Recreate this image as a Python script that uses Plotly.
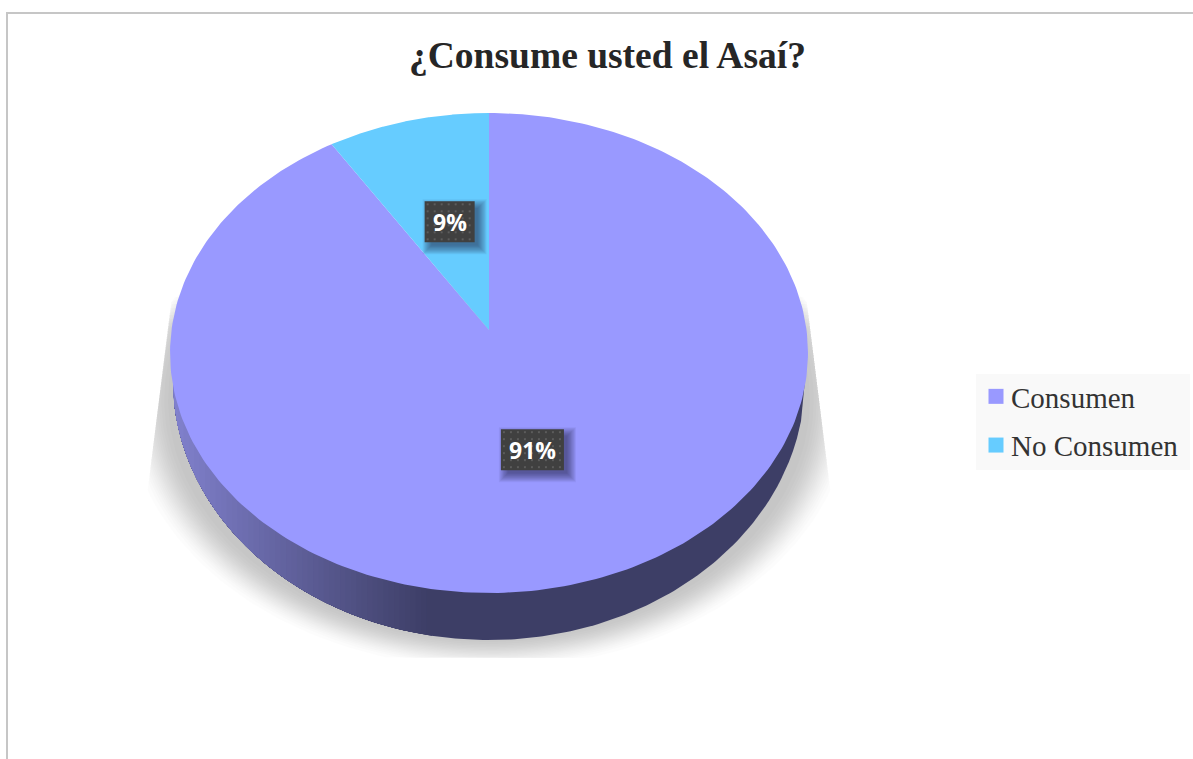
import numpy as np
import plotly.graph_objects as go

# Survey result
title_text = "¿Consume usted el Asaí?"
categories = ["Consumen", "No Consumen"]
values = [91, 9]
labels = ["91%", "9%"]
slice_colors = ["#9999ff", "#66ccff"]

W, H = 1193, 759

# Perspective disc: apex of the slices, near/far reach and horizontal radius
CX, CY = 489.0, 330.0
TILT = 0.0958
RY = 237.8
RX = 317.5


def project(angle_deg, frac=1.0):
    """Map a clockwise-from-top angle and radius fraction onto the tilted disc."""
    a = np.radians(angle_deg)
    u, v = frac * np.sin(a), frac * np.cos(a)
    w = 1 + TILT * v
    return CX + RX * u / w, CY - RY * v / w


def poly(x, y, color, name=None):
    return go.Scatter(
        x=list(x), y=list(y), mode="lines", fill="toself", fillcolor=color,
        line=dict(width=0), showlegend=False, hoverinfo="skip" if name is None else "text",
        text=name,
    )


fig = go.Figure()

# Soft floor shadow, stacked translucent ellipses clipped to a trapezoid
LAYERS = 19
alpha = 3 / 255
t = np.linspace(0, 2 * np.pi, 241)
for q in (np.arange(LAYERS) + 0.5) / LAYERS:
    s = 0.5 - np.sin(np.arcsin(1 - 2 * q) / 3)
    rx, ry = 316 + 52 * s, 236 + 36 * s
    px = CX + rx * np.cos(t)
    py = 400 + ry * np.sin(t)
    py = np.clip(py, 258 + 70 * q, 658)
    half = 319 + 0.125 * (py - 310)
    px = np.clip(px, CX - half, CX + half)
    fig.add_trace(poly(px, py, f"rgba(0,0,0,{alpha:.4f})"))

# Side wall: nested slabs, shortened step by step for a left-to-right gradient
RIM_RX, RIM_RY, RIM_CY = 316.0, 260.0, 380.0
dark = np.array([61, 62, 102])
light = np.array([128, 128, 204])


def wall(x_right, color):
    xs = np.linspace(CX - RIM_RX, x_right, 160)
    inside = np.clip(1 - ((xs - CX) / RIM_RX) ** 2, 0, None)
    ys = RIM_CY + RIM_RY * np.sqrt(inside)
    return poly(
        np.r_[xs, x_right, CX - RIM_RX],
        np.r_[ys, RIM_CY, RIM_CY],
        color,
    )


fig.add_trace(wall(CX + RIM_RX, "rgb(61,62,102)"))
GRAD_STEPS = 48
for i in range(GRAD_STEPS):
    f = i / (GRAD_STEPS - 1)
    x_edge = 432 + (178 - 432) * f
    c = dark + (light - dark) * f ** 1.05
    fig.add_trace(wall(x_edge, f"rgb({c[0]:.0f},{c[1]:.0f},{c[2]:.0f})"))

# Slices, clockwise from twelve o'clock, the large one first
total = sum(values)
small_sweep = 360 * values[1] / total
spans = [(0.0, 360 - small_sweep), (360 - small_sweep, 360.0)]
for name, val, color, (a0, a1) in zip(categories, values, slice_colors, spans):
    ang = np.linspace(a0, a1, 300)
    x, y = project(ang)
    fig.add_trace(poly(np.r_[CX, x, CX], np.r_[CY, y, CY], color, f"{name}: {val}%"))

# Value labels: dark dotted plates with a soft shadow, placed at mid-slice
BOX_H = 41
widths = {"91%": 63, "9%": 50}
annotations = []
nudge = {"91%": (-3, 0), "9%": (3, 1)}
for lab, (a0, a1) in zip(labels, spans):
    mx, my = project((a0 + a1) / 2, 0.5)
    mx += nudge[lab][0]
    my += nudge[lab][1]
    w = widths[lab]
    x0, x1, y0, y1 = mx - w / 2, mx + w / 2, my - BOX_H / 2, my + BOX_H / 2
    for grow in np.linspace(7, -2, 12):
        fig.add_trace(poly(
            [x0 + 5 - grow, x1 + 5 + grow, x1 + 5 + grow, x0 + 5 - grow],
            [y0 + 5 - grow, y0 + 5 - grow, y1 + 5 + grow, y1 + 5 + grow],
            "rgba(30,30,60,0.06)",
        ))
    fig.add_trace(poly([x0, x1, x1, x0], [y0, y0, y1, y1], "#404040"))
    gx, gy = np.meshgrid(np.arange(x0 + 3, x1 - 1, 7), np.arange(y0 + 3, y1 - 1, 7))
    fig.add_trace(go.Scatter(
        x=gx.ravel(), y=gy.ravel(), mode="markers", showlegend=False, hoverinfo="skip",
        marker=dict(symbol="square", size=2, color="#5c5c5c", line=dict(width=0)),
    ))
    annotations.append(dict(
        x=mx, y=my, xref="x", yref="y", text=f"<b>{lab}</b>", showarrow=False,
        font=dict(family="Open Sans", size=23, color="white"),
    ))

# Legend keys
for name, color in zip(categories, slice_colors):
    fig.add_trace(go.Scatter(
        x=[None], y=[None], mode="markers", name=name, legendgroup=name,
        marker=dict(symbol="square", size=15, color=color, line=dict(width=0)),
    ))

fig.update_layout(
    width=W, height=H, margin=dict(l=0, r=0, t=0, b=0),
    paper_bgcolor="white", plot_bgcolor="white",
    xaxis=dict(range=[0, W], visible=False, domain=[0, 1], fixedrange=True),
    yaxis=dict(range=[H, 0], visible=False, domain=[0, 1], fixedrange=True),
    title=dict(
        text=f"<b>{title_text}</b>", x=607.5 / W, xanchor="center", y=1 - 55 / H, yanchor="middle",
        font=dict(family="Liberation Serif", size=37.5, color="#262626"),
    ),
    legend=dict(
        x=976 / W, y=1 - 371 / H, xanchor="left", yanchor="top", bgcolor="rgba(0,0,0,0)",
        font=dict(family="Liberation Serif", size=29, color="#333333"),
        tracegroupgap=8, itemclick=False, itemdoubleclick=False,
    ),
    annotations=annotations,
    shapes=[
        dict(type="line", xref="x", yref="y", x0=7, x1=7, y0=13, y1=H,
             line=dict(color="#c6c6c6", width=2), layer="below"),
        dict(type="line", xref="x", yref="y", x0=6, x1=W, y0=13, y1=13,
             line=dict(color="#c6c6c6", width=2), layer="below"),
        dict(type="rect", xref="x", yref="y", x0=976, x1=1190, y0=374, y1=470,
             fillcolor="#f9f9f9", line=dict(width=0), layer="below"),
    ],
)

# Tighten the gap between legend keys and their text
post = """
document.querySelectorAll('.legendtext').forEach(function (t) { t.setAttribute('x', 35); });
"""
fig.write_html("out.html", post_script=post)
